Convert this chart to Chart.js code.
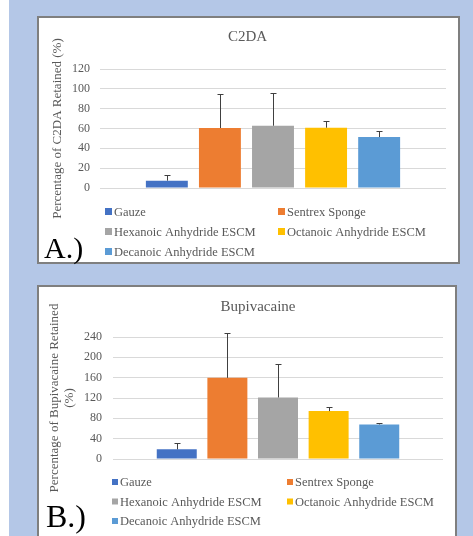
<!DOCTYPE html>
<html>
<head>
<meta charset="utf-8">
<script src="https://cdn.jsdelivr.net/npm/chart.js@4.4.1/dist/chart.umd.min.js"></script>
<style>
  body { margin: 0; background: #ffffff; width: 473px; height: 536px; overflow: hidden; position: relative; }
  #bg { position: absolute; left: 9px; top: 0; width: 464px; height: 536px; background: #b4c7e7; }
  .panel { position: absolute; background: #ffffff; border: 2px solid #7f7f7f; }
  .panel canvas { position: absolute; left: 0; top: 0; }
  .tag { position: absolute; font-family: 'Liberation Serif', 'Times New Roman', serif; color: #000; white-space: nowrap; }
</style>
</head>
<body>
<div id="bg"></div>
<div class="panel" style="left:37px;top:16px;width:419px;height:244px">
  <canvas id="chartA" width="419" height="244"></canvas>
</div>
<div class="tag" style="left:44px;top:233px;font-size:30px;line-height:30px">A.)</div>
<div class="panel" style="left:37px;top:285px;width:416px;height:262px">
  <canvas id="chartB" width="416" height="249"></canvas>
</div>
<div class="tag" style="left:46px;top:500px;font-size:32px;line-height:32px">B.)</div>
<script>
// series shown in both charts
var seriesNames = ["Gauze", "Sentrex Sponge", "Hexanoic Anhydride ESCM", "Octanoic Anhydride ESCM", "Decanoic Anhydride ESCM"];
var seriesColors = ["#4472c4", "#ed7d31", "#a5a5a5", "#ffc000", "#5b9bd5"];

// C2DA retained (%), mean and upper error
var c2daValues = [7.4, 60.5, 62.8, 60.8, 51.4];
var c2daErrors = [6.0, 34.5, 33.0, 7.1, 6.1];
var c2daTicks = [0, 20, 40, 60, 80, 100, 120];

// Bupivacaine retained (%)
var bupiValues = [19, 159.6, 121, 94.2, 68];
var bupiErrors = [11.8, 89, 65.4, 8.4, 3.2];
var bupiTicks = [0, 40, 80, 120, 160, 200, 240];

var serif = "'Liberation Serif', 'Times New Roman', serif";
var textGray = "#595959";

// draws the upper error bar of every bar
var errorBars = {
  id: "errorBars",
  afterDatasetsDraw: function (chart, args, opts) {
    var ctx = chart.ctx;
    var yScale = chart.scales.y;
    chart.data.datasets.forEach(function (ds, i) {
      var meta = chart.getDatasetMeta(i);
      meta.data.forEach(function (bar, j) {
        var x = Math.round(bar.x) + 0.5;
        var top = Math.round(yScale.getPixelForValue(ds.data[j] + ds.errors[j])) + 0.5;
        ctx.save();
        ctx.strokeStyle = opts.color;
        ctx.lineWidth = 1;
        ctx.beginPath();
        ctx.moveTo(x, bar.y);
        ctx.lineTo(x, top);
        ctx.moveTo(x - opts.cap, top);
        ctx.lineTo(x + opts.cap, top);
        ctx.stroke();
        ctx.restore();
      });
    });
  }
};

// two column legend under the plot, like the excel one
var gridLegend = {
  id: "gridLegend",
  afterDraw: function (chart, args, opts) {
    var ctx = chart.ctx;
    var area = chart.chartArea;
    ctx.save();
    ctx.font = opts.fontSize + "px " + serif;
    ctx.textBaseline = "middle";
    chart.data.datasets.forEach(function (ds, i) {
      var col = i % 2;
      var row = Math.floor(i / 2);
      var x = area.left + (col == 0 ? opts.x1 : opts.x2);
      var y = area.bottom + opts.y0 + row * opts.rowGap;
      ctx.fillStyle = ds.backgroundColor;
      ctx.fillRect(x, y - opts.box / 2, opts.box, opts.box);
      ctx.fillStyle = textGray;
      ctx.fillText(ds.label, x + opts.box + opts.gap, y + 1);
    });
    ctx.restore();
  }
};

// chart title
var panelTitle = {
  id: "panelTitle",
  afterDraw: function (chart, args, opts) {
    var ctx = chart.ctx;
    ctx.save();
    ctx.font = opts.fontSize + "px " + serif;
    ctx.fillStyle = textGray;
    ctx.textAlign = "center";
    ctx.textBaseline = "middle";
    ctx.fillText(opts.text, chart.width / 2 + opts.dx, opts.y);
    ctx.restore();
  }
};

function makeChart(canvasId, cfg) {
  var datasets = [];
  for (var i = 0; i < seriesNames.length; i++) {
    datasets.push({
      label: seriesNames[i],
      data: [cfg.values[i]],
      errors: [cfg.errors[i]],
      backgroundColor: seriesColors[i],
      categoryPercentage: 0.767,
      barPercentage: 0.79
    });
  }
  var ticks = cfg.ticks;
  return new Chart(document.getElementById(canvasId), {
    type: "bar",
    data: { labels: [""], datasets: datasets },
    plugins: [errorBars, gridLegend, panelTitle],
    options: {
      responsive: false,
      animation: false,
      layout: { padding: cfg.padding },
      scales: {
        x: { display: false },
        y: {
          min: ticks[0],
          max: ticks[ticks.length - 1],
          afterFit: function (scale) { scale.width = cfg.axisWidth; },
          ticks: {
            stepSize: ticks[1] - ticks[0],
            color: textGray,
            padding: cfg.tickPad,
            font: { family: serif, size: 12 }
          },
          grid: { color: "#d9d9d9", drawTicks: false },
          border: { display: false },
          title: {
            display: true,
            text: cfg.axisTitle,
            color: textGray,
            font: { family: serif, size: 13, lineHeight: cfg.titleLine },
            padding: { top: cfg.titlePad, bottom: 0 }
          }
        }
      },
      plugins: {
        legend: { display: false },
        tooltip: { enabled: false },
        errorBars: { color: "#404040", cap: 3 },
        gridLegend: cfg.legend,
        panelTitle: cfg.title
      }
    }
  });
}

makeChart("chartA", {
  values: c2daValues,
  errors: c2daErrors,
  ticks: c2daTicks,
  axisTitle: "Percentage of C2DA Retained (%)",
  axisWidth: 61,
  tickPad: 10,
  titleLine: 1.2,
  titlePad: 11,
  padding: { left: 0, right: 12, top: 51, bottom: 74 },
  title: { text: "C2DA", fontSize: 15, dx: -1, y: 19 },
  legend: { x1: 5, x2: 178, y0: 23.5, rowGap: 20, box: 7, gap: 2, fontSize: 12.5 }
});

makeChart("chartB", {
  values: bupiValues,
  errors: bupiErrors,
  ticks: bupiTicks,
  axisTitle: ["Percentage of Bupivacaine Retained", "(%)"],
  axisWidth: 74,
  tickPad: 11,
  titleLine: 15 / 13,
  titlePad: 8.5,
  padding: { left: 0, right: 12, top: 50, bottom: 77 },
  title: { text: "Bupivacaine", fontSize: 15, dx: 11, y: 20 },
  legend: { x1: -1, x2: 174, y0: 23, rowGap: 19.5, box: 6, gap: 2, fontSize: 12.5 }
});
</script>
</body>
</html>
